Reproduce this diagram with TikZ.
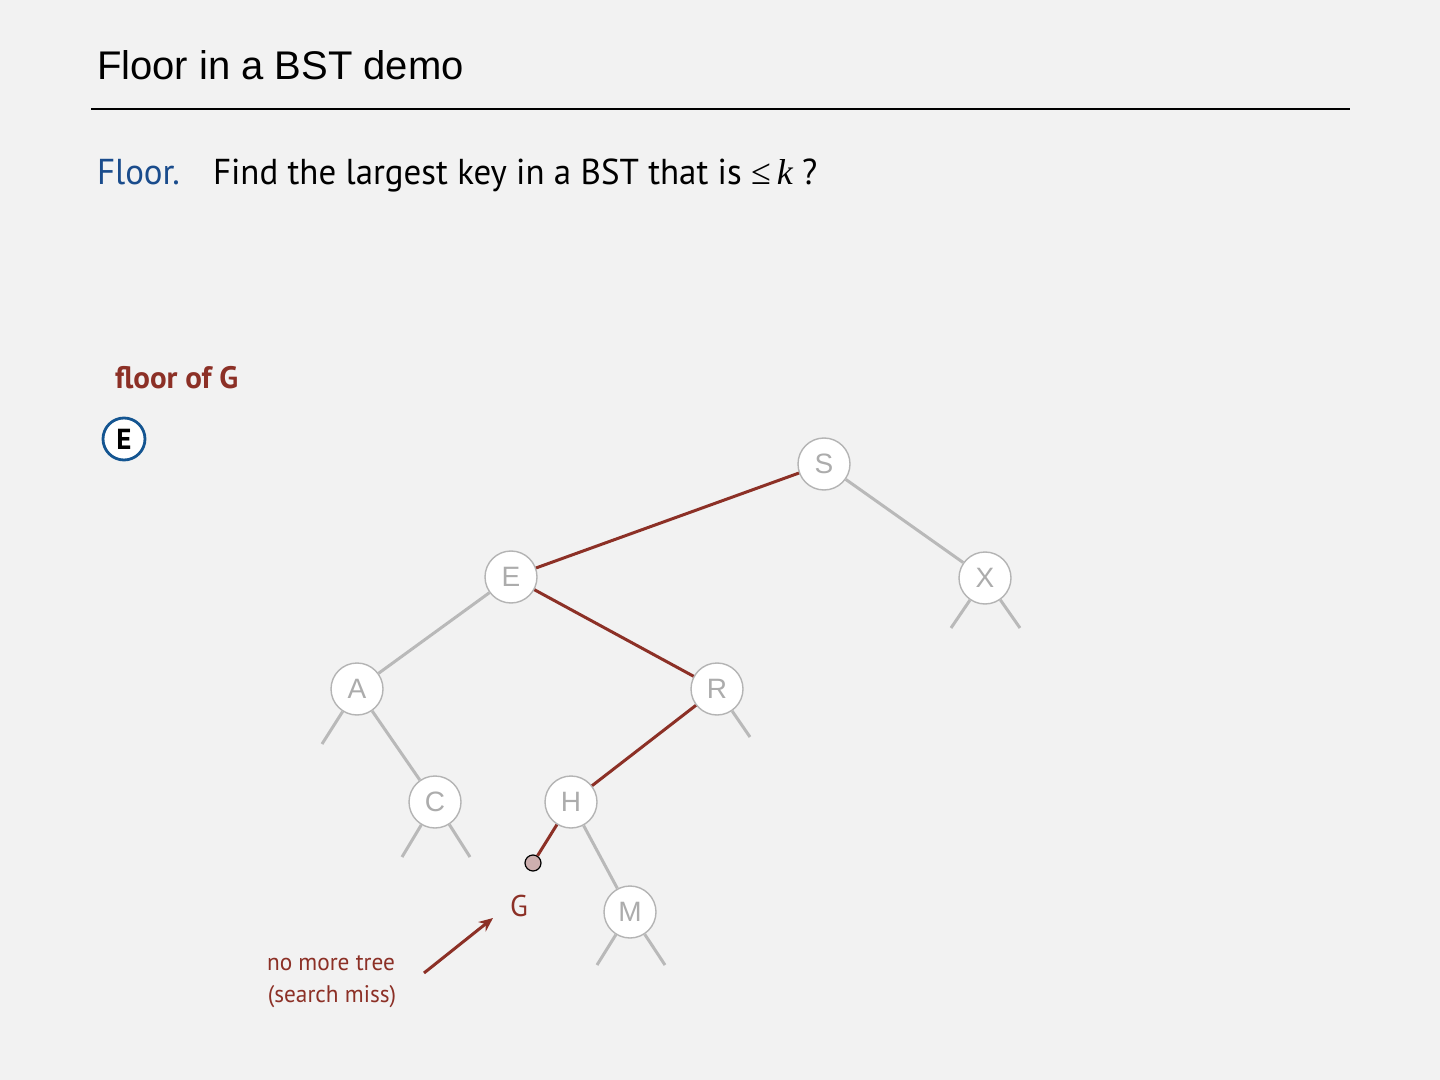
\documentclass[tikz,border=0pt]{standalone}
\usepackage{fontspec}
\setmainfont{Liberation Sans}
\newfontfamily\bodyfont[FakeStretch=0.97]{PT Sans}
\newfontfamily\boldfont{PT Sans}
\newfontfamily\titlefont{Liberation Sans}
\newfontfamily\seriffont{Liberation Serif}
\usetikzlibrary{arrows.meta}
\definecolor{bg}{HTML}{F2F2F2}
\definecolor{dred}{RGB}{140,48,38}
\definecolor{fblue}{RGB}{26,76,140}
\definecolor{cblue}{RGB}{20,85,145}
\definecolor{egray}{RGB}{185,185,185}
\definecolor{lgray}{RGB}{172,172,172}
\definecolor{cgray}{RGB}{180,180,180}
\definecolor{dotfill}{RGB}{205,175,175}
\tikzset{
  txt/.style={inner sep=0pt, outer sep=0pt},
  tnode/.style={circle, draw=cgray, fill=white, line width=0.7pt, minimum size=26pt, inner sep=0pt, text=lgray, font=\titlefont\fontsize{14}{14}\selectfont},
  redge/.style={draw=dred, line width=1.5pt},
  gedge/.style={draw=egray, line width=1.5pt},
}
\begin{document}
\begin{tikzpicture}[x=0.5pt,y=-0.5pt]
\fill[bg] (0,0) rectangle (1440,1080);
\useasboundingbox (0,0) rectangle (1440,1080);
% title
\node[txt, anchor=base west, font=\titlefont\fontsize{20}{24}\selectfont] (title) at (97,80) {Floor in a BST demo};
\coordinate (rl) at (91,109);
\coordinate (rr) at (1350,109);
\draw[line width=0.6pt] (rl) -- (rr);
% definition
\node[txt, anchor=base west, text=fblue, font=\bodyfont\fontsize{18}{20}\selectfont] (deflbl) at (97,185) {Floor.};
\node[txt, anchor=base west, font=\bodyfont\fontsize{18}{20}\selectfont] (deftxt) at (213,185) {Find the largest key in a BST that is {\seriffont\char"2264\,\itshape k} ?};
% floor of G
\node[txt, anchor=base west, text=dred, font=\boldfont\bfseries\fontsize{15.5}{18}\selectfont] (floorof) at (115,389) {floor of G};
\node[circle, draw=cblue, line width=1.4pt, fill=white, minimum size=21pt, inner sep=0pt, font=\boldfont\bfseries\fontsize{14.5}{14.5}\selectfont] (res) at (124,439) {E};
% tree nodes
\node[tnode] (S) at (824,464) {S};
\node[tnode] (E) at (511,577) {E};
\node[tnode] (X) at (985,578) {X};
\node[tnode] (A) at (357,689) {A};
\node[tnode] (R) at (717,689) {R};
\node[tnode] (C) at (435,802) {C};
\node[tnode] (H) at (571,802) {H};
\node[tnode] (M) at (630,912) {M};
\node[circle, draw=black, fill=dotfill, line width=0.6pt, minimum size=8pt, inner sep=0pt] (g) at (533,863) {};
% null link ends
\coordinate (xl) at (951,628);
\coordinate (xr) at (1020,628);
\coordinate (al) at (322,744);
\coordinate (rrr) at (750,737);
\coordinate (cl) at (402,857);
\coordinate (cr) at (470,857);
\coordinate (ml) at (597,965);
\coordinate (mr) at (665,965);
% edges
\path[gedge] (S) -- (X);
\path[gedge] (E) -- (A);
\path[gedge] (A) -- (C);
\path[gedge] (H) -- (M);
\path[gedge] (X) -- (xl);
\path[gedge] (X) -- (xr);
\path[gedge] (A) -- (al);
\path[gedge] (R) -- (rrr);
\path[gedge] (C) -- (cl);
\path[gedge] (C) -- (cr);
\path[gedge] (M) -- (ml);
\path[gedge] (M) -- (mr);
\path[redge] (S) -- (E);
\path[redge] (E) -- (R);
\path[redge] (R) -- (H);
\path[redge] (H) -- (g);
% G label and annotation
\node[txt, anchor=base, text=dred, font=\bodyfont\fontsize{15}{15}\selectfont] (glbl) at (519,916) {G};
\node[txt, anchor=base, text=dred, font=\bodyfont\fontsize{12}{14}\selectfont] (miss1) at (331,970) {no more tree};
\node[txt, anchor=base, text=dred, font=\bodyfont\fontsize{12}{14}\selectfont] (miss2) at (332,1002) {(search miss)};
\coordinate (as) at (424,973);
\coordinate (ae) at (493,918);
\draw[dred, line width=1.5pt, -{Stealth[length=7pt,width=6pt]}] (as) -- (ae);
\end{tikzpicture}
\end{document}
